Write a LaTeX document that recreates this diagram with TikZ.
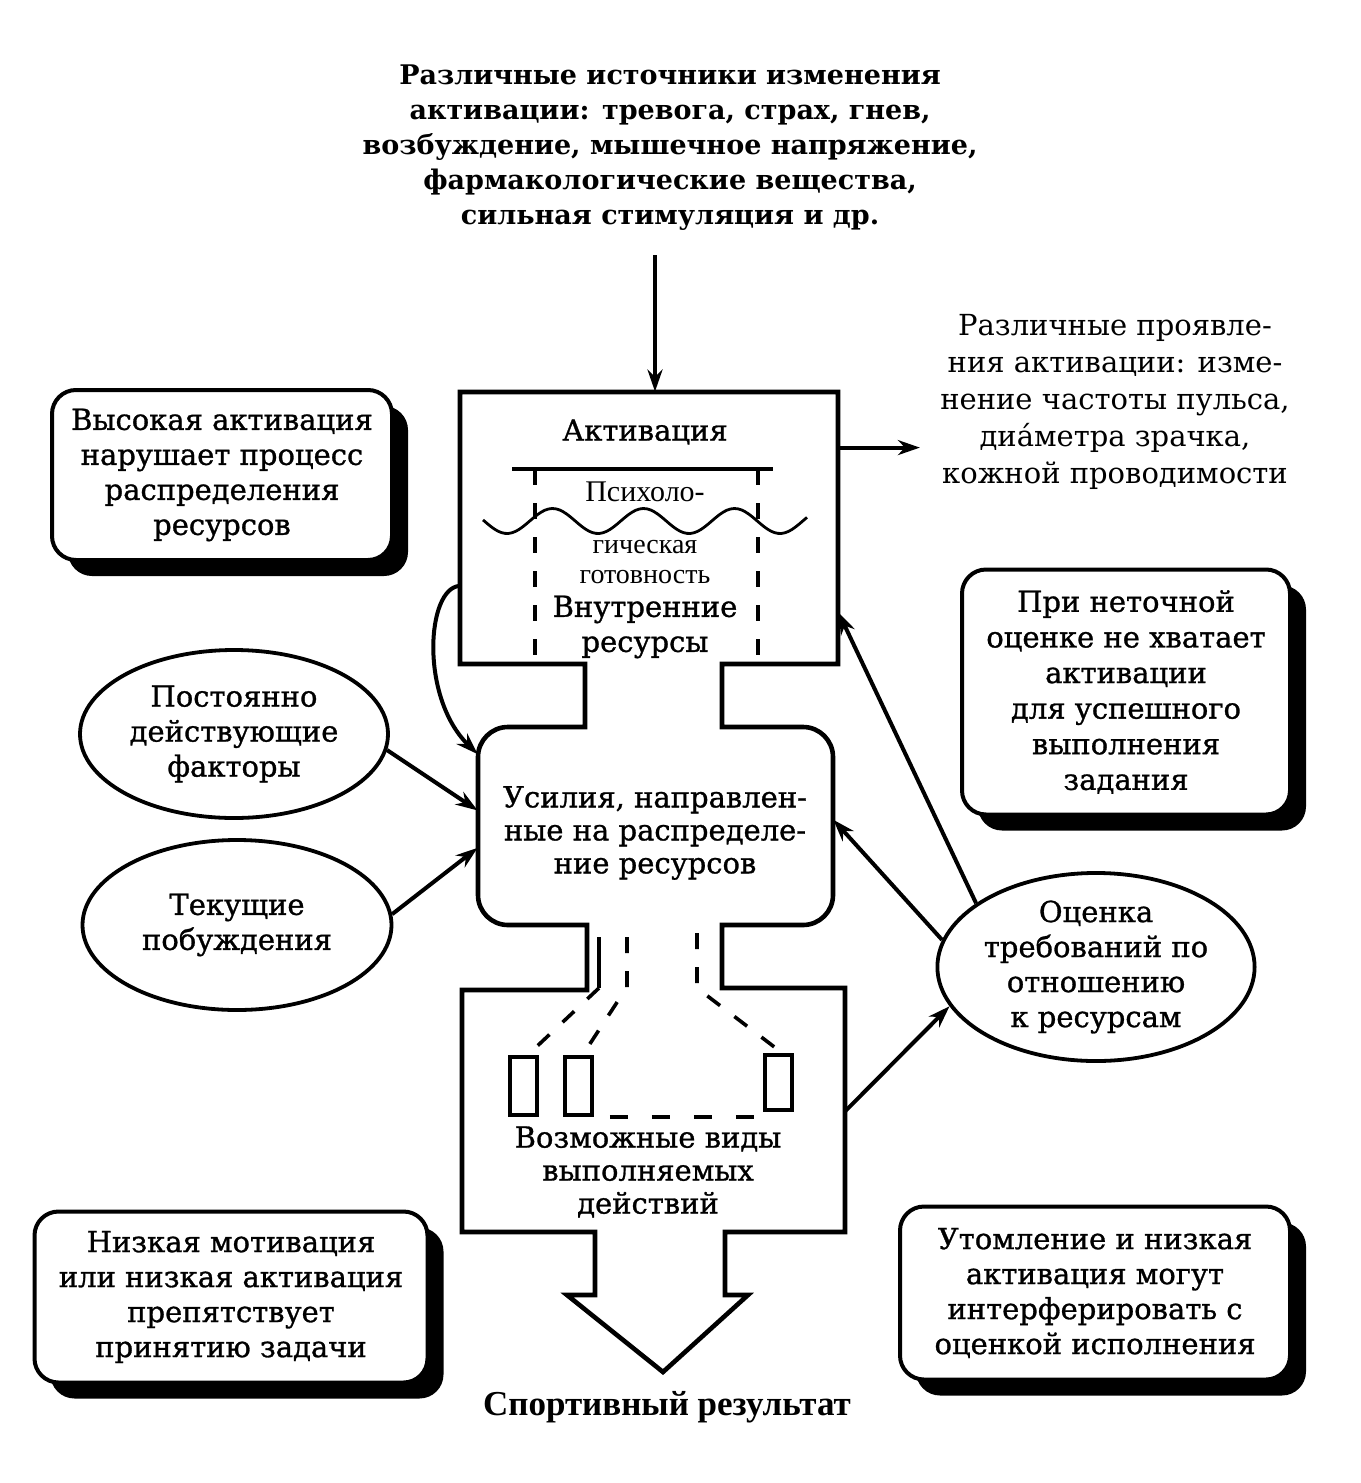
\documentclass[tikz,border=0pt]{standalone}
\usepackage{fontspec}
\setmainfont{DejaVu Serif}
\newfontfamily\boxfont{DejaVu Serif}[FakeBold=1.0]
\newfontfamily\timesfont{Liberation Serif}
\usetikzlibrary{arrows.meta,shapes.geometric,shadows}

\begin{document}
\begin{tikzpicture}[x=0.5pt,y=-0.5pt,
    txt/.style={align=center, inner sep=0pt, font=\boxfont\fontsize{14.5}{17.5}\selectfont},
    shadowbox/.style={txt, draw, line width=2pt, rounded corners=12pt, fill=white,
        drop shadow={opacity=1, fill=black, shadow xshift=8pt, shadow yshift=-8pt}},
    oval/.style={txt, draw, ellipse, line width=1.9pt},
    frame/.style={inner sep=0pt},
    slot/.style={draw, line width=1.8pt, minimum width=13.5pt, inner sep=0pt},
    arr/.style={-{Stealth[length=11pt,width=7.5pt]}, line width=2pt},
    wall/.style={line width=2.3pt, line join=miter},
    chan/.style={line width=1.8pt, dash pattern=on 8pt off 9pt}]

    \useasboundingbox (0,0) rectangle (1360,1483);

    % sources and manifestations
    \node[txt, font=\bfseries\fontsize{13.5}{17.5}\selectfont] (src) at (670,148)
        {Различные источники изменения\\активации: тревога, страх, гнев,\\возбуждение, мышечное напряжение,\\фармакологические вещества,\\сильная стимуляция и др.};
    \node[txt, font=\fontsize{14.5}{18.5}\selectfont] (manif) at (1115,402)
        {Различные проявле-\\ния активации: изме-\\нение частоты пульса,\\диа́метра зрачка,\\кожной проводимости};

    % central blocks (frames only for anchors)
    \node[frame, minimum width=189pt, minimum height=136pt] (act) at (649,528) {};
    \node[frame, minimum width=177.5pt, minimum height=99pt] (eff) at (655.5,826) {};
    \node[frame, minimum width=191.5pt, minimum height=121pt] (acts) at (653.5,1111) {};

    \draw[wall] (585,664) -- (460,664) -- (460,392) -- (838,392) -- (838,664) -- (722,664) -- (722,727)
        -- (803,727) arc[start angle=-90, end angle=0, radius=30] -- (833,895)
        arc[start angle=0, end angle=90, radius=30] -- (722,925)
        -- (722,988) -- (845,988) -- (845,1232) -- (725,1232) -- (725,1295) -- (748,1295)
        -- (663,1372) -- (567,1295) -- (595,1295) -- (595,1232) -- (462,1232) -- (462,990)
        -- (587,990) -- (587,925) -- (508,925) arc[start angle=90, end angle=180, radius=30]
        -- (478,757) arc[start angle=180, end angle=270, radius=30] -- (585,727) -- cycle;

    % activation
    \node[txt] (actlbl) at (645,432) {Активация};
    \draw[line width=2.2pt] (512,469) -- (773,469);
    \draw[chan] (535,469) -- (535,664);
    \draw[chan] (758,469) -- (758,664);
    \draw[line width=1.4pt] plot[domain=483:807, samples=90] (\x, {521 + 12.5*cos(3.956*(\x-507))});
    \node[txt, font=\timesfont\fontsize{15}{17}\selectfont] (psy) at (645,492) {Психоло-};
    \node[txt, font=\timesfont\fontsize{14}{14}\selectfont, text height=6.5pt, text depth=0pt] (psy2) at (645,547) {гическая};
    \node[txt, font=\timesfont\fontsize{14}{14}\selectfont, text height=6.5pt, text depth=0pt] (psy3) at (645,577) {готовность};
    \node[txt] (inner) at (645,627) {Внутренние\\ресурсы};

    % effort
    \node[txt, font=\boxfont\fontsize{14.5}{16.5}\selectfont] (efflbl) at (655,833)
        {Усилия, направлен-\\ные на распределе-\\ние ресурсов};

    % actions
    \node[slot, minimum height=29pt] (r1) at (523.5,1086) {};
    \node[slot, minimum height=29pt] (r2) at (578.5,1086) {};
    \node[slot, minimum height=27.5pt] (r3) at (778.5,1082.5) {};
    \draw[line width=1.8pt] (599,937) -- (599,988);
    \draw[chan] (599,988) -- ([xshift=2pt]r1.north);
    \draw[chan] (627,937) -- (627,987) -- ([xshift=2pt]r2.north);
    \draw[chan] (697,933) -- (697,988) -- ([xshift=2pt]r3.north);
    \draw[line width=1.8pt, dash pattern=on 9pt off 12pt, shorten <=8pt] (r2.south east) -- (r2.south east -| r3.west);
    \node[txt, font=\boxfont\fontsize{14.5}{16.5}\selectfont] (actslbl) at (648,1172)
        {Возможные виды\\выполняемых\\действий};

    \node[txt, font=\timesfont\bfseries\fontsize{17.5}{20}\selectfont] (result) at (667,1407) {Спортивный результат};

    % side boxes
    \node[shadowbox, minimum width=170pt, minimum height=85pt] (high) at (222,475)
        {Высокая активация\\нарушает процесс\\распределения\\ресурсов};
    \node[shadowbox, minimum width=164pt, minimum height=122.5pt, font=\boxfont\fontsize{14.5}{17.8}\selectfont] (miss) at (1126,692)
        {При неточной\\оценке не хватает\\активации\\для успешного\\выполнения\\задания};
    \node[shadowbox, minimum width=196.5pt, minimum height=85.5pt] (lowmot) at (231,1297)
        {Низкая мотивация\\или низкая активация\\препятствует\\принятию задачи};
    \node[shadowbox, minimum width=195pt, minimum height=86.5pt] (tired) at (1095,1293)
        {Утомление и низкая\\активация могут\\интерферировать с\\оценкой исполнения};

    \node[oval, minimum width=154pt, minimum height=84pt] (perm) at (234,734)
        {Постоянно\\действующие\\факторы};
    \node[oval, minimum width=154.5pt, minimum height=85pt] (cur) at (237,925)
        {Текущие\\побуждения};
    \node[oval, minimum width=149pt, minimum height=92.5pt] (rate) at (1096,967)
        {Оценка\\требований по\\отношению\\к ресурсам};

    % connectors
    \draw[arr, shorten <=12pt] ([xshift=3pt]act.north |- src.south) -- ([xshift=3pt]act.north);
    \draw[arr, shorten >=10pt] (act.23.7) -- (act.23.7 -| manif.west);
    \draw[arr] (act.197.4) .. controls +(-33,2) and +(-58,-57) .. (eff.158.7);
    \draw[arr] (perm.-6) -- (eff.175.8);
    \draw[arr] (cur.4.5) -- (eff.187.7);
    \draw[arr] (rate.152) -- (act.-24.5);
    \draw[arr] (rate.170) -- (eff.2.6);
    \draw[arr] (acts.0) -- (rate.195.6);

\end{tikzpicture}
\end{document}
